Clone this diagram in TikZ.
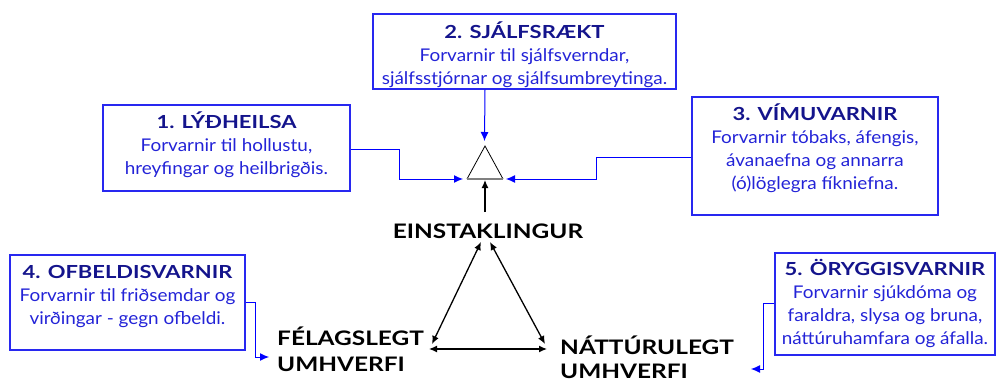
\documentclass[tikz,border=0pt]{standalone}
\usepackage{fontspec}
\setmainfont{Lato}
\newfontfamily\widefont[FakeStretch=1.22]{Lato}
\newfontfamily\bodyfont[FakeStretch=1.08]{Lato}
\usetikzlibrary{arrows.meta}
\definecolor{boxblue}{RGB}{40,40,240}
\definecolor{titleblue}{RGB}{20,20,140}
\definecolor{bodyblue}{RGB}{35,35,215}
\definecolor{lineblue}{RGB}{0,0,255}
\tikzset{
  infobox/.style={draw=boxblue, line width=1.2pt, rectangle, inner sep=0pt},
  boxtext/.style={anchor=north, align=center, inner sep=0pt, text=bodyblue,
    font=\bodyfont\fontsize{17.5}{23}\selectfont},
  bluearrow/.style={draw=lineblue, line width=1pt, -{Latex[length=9pt,width=8pt]}},
  blackarrow/.style={draw=black, line width=1.3pt, {Latex[length=8pt,width=7pt]}-{Latex[length=8pt,width=7pt]}},
  bigword/.style={font=\widefont\bfseries\fontsize{20}{26}\selectfont, text=black, inner sep=0pt, align=left},
}
\newcommand{\ttl}[1]{{\widefont\fontsize{18}{23}\selectfont\bfseries\color{titleblue}\vphantom{ÁÝ}#1}}
\begin{document}
\begin{tikzpicture}[x=1pt,y=-1pt]
\useasboundingbox (0,0) rectangle (997,381);
% boxes
\node[infobox, minimum width=303pt, minimum height=75pt] (b2) at (524.5,51.5) {};
\node[boxtext] (t2) at (524.5,22) {\ttl{2. SJÁLFSRÆKT}\\Forvarnir til sjálfsverndar,\\sjálfsstjórnar og sjálfsumbreytinga.};
\node[infobox, minimum width=247pt, minimum height=86pt] (b1) at (226.5,148) {};
\node[boxtext] (t1) at (226.5,112) {\ttl{1. LÝÐHEILSA}\\Forvarnir til hollustu,\\hreyfingar og heilbrigðis.};
\node[infobox, minimum width=246pt, minimum height=118pt] (b3) at (815,156) {};
\node[boxtext] (t3) at (815,104) {\ttl{3. VÍMUVARNIR}\\Forvarnir tóbaks, áfengis,\\ávanaefna og annarra\\(ó)löglegra fíkniefna.};
\node[infobox, minimum width=235pt, minimum height=95pt] (b4) at (127.5,302.5) {};
\node[boxtext] (t4) at (127.5,262) {\ttl{4. OFBELDISVARNIR}\\Forvarnir til friðsemdar og\\virðingar - gegn ofbeldi.};
\node[infobox, minimum width=220pt, minimum height=102pt] (b5) at (885,304) {};
\node[boxtext] (t5) at (885,259) {\ttl{5. ÖRYGGISVARNIR}\\Forvarnir sjúkdóma og\\faraldra, slysa og bruna,\\náttúruhamfara og áfalla.};
% central triangle
\coordinate (apex) at (485,146);
\coordinate (bl) at (467,179);
\coordinate (br) at (503,179);
\draw[black, line width=0.8pt] (bl) -- (apex) -- (br);
\draw[gray, line width=1.6pt] (bl) -- (br);
% words
\node[bigword, anchor=base] (ein) at (488,238) {EINSTAKLINGUR};
\node[bigword, anchor=base west] (fel) at (277,345) {FÉLAGSLEGT};
\node[bigword, anchor=base west] (fel2) at (277,371) {UMHVERFI};
\node[bigword, anchor=base west] (nat) at (560,354) {NÁTTÚRULEGT};
\node[bigword, anchor=base west] (nat2) at (560,378) {UMHVERFI};
% blue connectors
\draw[bluearrow] (b2.south -| apex) -- (484.5,141);
\draw[bluearrow] (b1.east |- 0,149) -- (399,149) -- (399,179) -- (463,179);
\draw[bluearrow] (b3.west |- 0,157) -- (596,157) -- (596,179) -- (506,179);
\draw[bluearrow] (b4.east |- 0,302) -- (255,302) -- (255,357) -- (269,357);
\draw[bluearrow] (b5.west |- 0,303) -- (763,303) -- (763,369) -- (751,369);
% black connectors
\draw[black, line width=1.3pt, -{Latex[length=8pt,width=7pt]}] (485,212) -- (485,180);
\draw[blackarrow] (481,242) -- (432,344);
\draw[blackarrow] (490,242) -- (545,344);
\draw[blackarrow] (429,349) -- (547,349);
\end{tikzpicture}
\end{document}
